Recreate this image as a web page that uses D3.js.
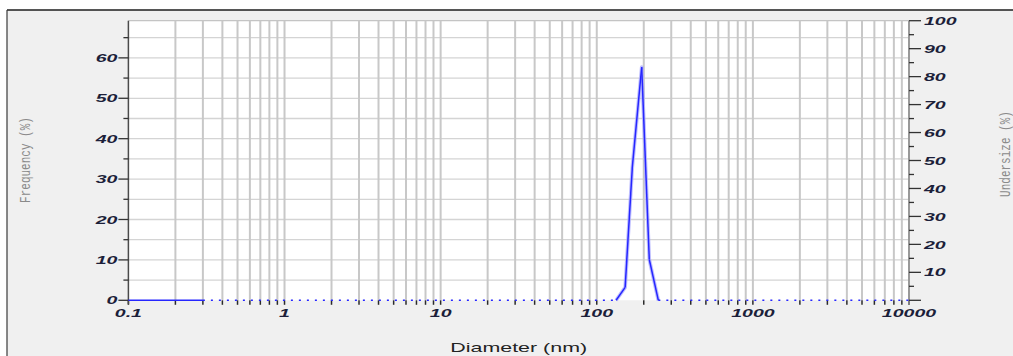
<!DOCTYPE html>
<html>
<head>
<meta charset="utf-8">
<script src="https://cdn.jsdelivr.net/npm/d3@7"></script>
<style>
  html, body { margin: 0; padding: 0; background: #ffffff; }
  svg { display: block; }
</style>
</head>
<body>
<svg id="chart" width="1013" height="356"></svg>
<script>
// ---- data ----
const diameters = [0.1, 0.3, 133, 152, 169, 194, 217, 248, 10000];
const frequency = [0, 0, 0, 3.2, 33, 57.7, 10.1, 0, 0];
const solidBaselineEnd = 0.3;
const xTickLabels = [0.1, 1, 10, 100, 1000, 10000];
const leftTickValues = [0, 10, 20, 30, 40, 50, 60];
const rightTickValues = [10, 20, 30, 40, 50, 60, 70, 80, 90, 100];
const leftDomain = [0, 69.2];
const rightDomain = [0, 100];
const xDomain = [0.1, 10000];
const xTitle = "Diameter (nm)";
const leftTitle = "Frequency (%)";
const rightTitle = "Undersize (%)";

// ---- layout ----
const L = 128.4, R = 909, T = 20.7, B = 300.3;
const svg = d3.select("#chart");

const x = d3.scaleLog().domain(xDomain).range([L, R]);
const yL = d3.scaleLinear().domain(leftDomain).range([B, T]);
const yR = d3.scaleLinear().domain(rightDomain).range([B, T]);

// panel
svg.append("rect").attr("x", 7).attr("y", 10).attr("width", 1013).attr("height", 356)
  .attr("fill", "#f0f0f0");
svg.append("line").attr("x1", 7).attr("x2", 1013).attr("y1", 10).attr("y2", 10)
  .attr("stroke", "#1e1e1e").attr("stroke-width", 1.5);
svg.append("line").attr("x1", 7).attr("x2", 7).attr("y1", 10).attr("y2", 356)
  .attr("stroke", "#3a3a3a").attr("stroke-width", 1.2);

// plot background
svg.append("rect").attr("x", L).attr("y", T).attr("width", R - L).attr("height", B - T)
  .attr("fill", "#ffffff");

// minor x values (1..9 per decade)
const xMinor = [];
for (let e = -1; e < 4; e++) for (let m = 1; m <= 9; m++) xMinor.push(m * Math.pow(10, e));
xMinor.push(10000);

// horizontal grid every 5 on left scale
const hGrid = d3.range(5, 70, 5);
svg.append("g").selectAll("line").data(hGrid).join("line")
  .attr("x1", L).attr("x2", R)
  .attr("y1", d => yL(d)).attr("y2", d => yL(d))
  .attr("stroke", "#d4d4d4").attr("stroke-width", 1.3);
svg.append("line").attr("x1", L).attr("x2", R).attr("y1", T).attr("y2", T)
  .attr("stroke", "#c4c4c4").attr("stroke-width", 1.3);

// vertical grid
svg.append("g").selectAll("line").data(xMinor.filter(d => d > 0.1)).join("line")
  .attr("x1", d => x(d)).attr("x2", d => x(d))
  .attr("y1", T).attr("y2", B)
  .attr("stroke", "#c8c8c8").attr("stroke-width", 2);

// bottom ticks
svg.append("g").selectAll("line").data(xMinor).join("line")
  .attr("x1", d => x(d)).attr("x2", d => x(d))
  .attr("y1", B).attr("y2", B + 4.5)
  .attr("stroke", "#2a2a2a").attr("stroke-width", 1.5);

// left axis
svg.append("line").attr("x1", L).attr("x2", L).attr("y1", T).attr("y2", B + 4)
  .attr("stroke", "#4a4a4a").attr("stroke-width", 1.5);
const leftMinor = d3.range(5, 70, 10);
svg.append("g").selectAll("line").data(leftMinor).join("line")
  .attr("x1", L - 5).attr("x2", L).attr("y1", d => yL(d)).attr("y2", d => yL(d))
  .attr("stroke", "#333").attr("stroke-width", 1.3);
svg.append("g").selectAll("line").data(leftTickValues).join("line")
  .attr("x1", L - 10).attr("x2", L).attr("y1", d => yL(d)).attr("y2", d => yL(d))
  .attr("stroke", "#333").attr("stroke-width", 1.3);

// right axis
svg.append("line").attr("x1", R).attr("x2", R).attr("y1", T).attr("y2", B + 4)
  .attr("stroke", "#8a8a8a").attr("stroke-width", 1.5);
const rightMinor = d3.range(5, 100, 10);
svg.append("g").selectAll("line").data(rightMinor).join("line")
  .attr("x1", R).attr("x2", R + 5).attr("y1", d => yR(d)).attr("y2", d => yR(d))
  .attr("stroke", "#333").attr("stroke-width", 1.3);
svg.append("g").selectAll("line").data([0].concat(rightTickValues)).join("line")
  .attr("x1", R).attr("x2", R + 12).attr("y1", d => yR(d)).attr("y2", d => yR(d))
  .attr("stroke", "#333").attr("stroke-width", 1.3);

// tick labels (stretched bold italic)
const SX = 1.7;
function stretchedText(g, data, fx, fy, anchor) {
  g.selectAll("text").data(data).join("text")
    .attr("transform", d => `translate(${fx(d)},${fy(d)}) scale(${SX},1)`)
    .attr("text-anchor", anchor)
    .attr("dy", "0.36em")
    .attr("font-family", "'Liberation Sans', Arial, sans-serif")
    .attr("font-weight", "bold").attr("font-style", "italic")
    .attr("font-size", "11.5px")
    .attr("fill", "#1c1f3a")
    .text(d => d);
}
stretchedText(svg.append("g"), leftTickValues, d => L - 11, d => yL(d), "end");
stretchedText(svg.append("g"), rightTickValues, d => R + 15, d => yR(d), "start");
stretchedText(svg.append("g"), xTickLabels, d => x(d), d => 313, "middle");

// data line
const pts = diameters.map((d, i) => ({ d, v: frequency[i] }));
const lineGen = d3.line().x(p => x(p.d)).y(p => yL(p.v));
const segs = [];
for (let i = 0; i < pts.length - 1; i++) {
  const a = pts[i], b = pts[i + 1];
  const solid = (a.v !== 0 || b.v !== 0) || b.d <= solidBaselineEnd;
  segs.push({ pts: [a, b], solid });
}
const solidPeak = pts.filter((p, i) => i >= 2 && i <= 7);
svg.append("path").datum(solidPeak).attr("d", lineGen)
  .attr("fill", "none").attr("stroke", "#a8a8ff").attr("stroke-width", 3.6)
  .attr("stroke-linejoin", "round").attr("opacity", 0.75);
svg.append("g").selectAll("path").data(segs).join("path")
  .attr("d", s => lineGen(s.pts))
  .attr("fill", "none")
  .attr("stroke", "#2626ff")
  .attr("stroke-width", s => s.solid ? 1.5 : 1.4)
  .attr("stroke-dasharray", s => s.solid ? null : "2,6");

// axis titles
svg.append("text")
  .attr("transform", `translate(${(L + R) / 2},352) scale(${SX},1)`)
  .attr("text-anchor", "middle")
  .attr("font-family", "'Liberation Sans', Arial, sans-serif")
  .attr("font-size", "12.6px").attr("fill", "#222")
  .text(xTitle);
svg.append("text")
  .attr("transform", `translate(30,160) rotate(-90) scale(1,1.3)`)
  .attr("text-anchor", "middle")
  .attr("font-family", "'Liberation Mono', monospace")
  .attr("font-size", "11px").attr("fill", "#8a8a8a")
  .text(leftTitle);
svg.append("text")
  .attr("transform", `translate(1010,154) rotate(-90) scale(1,1.3)`)
  .attr("text-anchor", "middle")
  .attr("font-family", "'Liberation Mono', monospace")
  .attr("font-size", "11px").attr("fill", "#8a8a8a")
  .text(rightTitle);
</script>
</body>
</html>
